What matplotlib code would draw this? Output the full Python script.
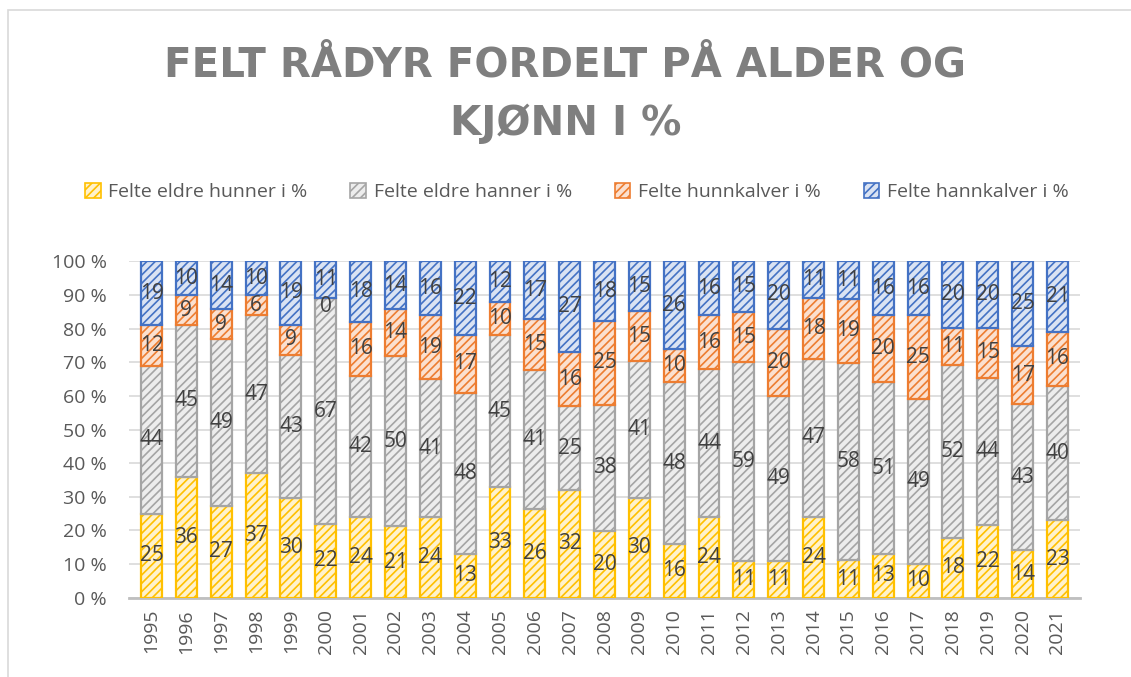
import matplotlib.pyplot as plt
import matplotlib.patches as mpatches
import numpy as np

years = [str(y) for y in range(1995, 2022)]
eldre_hunner = [25, 36, 27, 37, 30, 22, 24, 21, 24, 13, 33, 26, 32, 20, 30, 16, 24, 11, 11, 24, 11, 13, 10, 18, 22, 14, 23]
eldre_hanner = [44, 45, 49, 47, 43, 67, 42, 50, 41, 48, 45, 41, 25, 38, 41, 48, 44, 59, 49, 47, 58, 51, 49, 52, 44, 43, 40]
hunnkalver = [12, 9, 9, 6, 9, 0, 16, 14, 19, 17, 10, 15, 16, 25, 15, 10, 16, 15, 20, 18, 19, 20, 25, 11, 15, 17, 16]
hannkalver = [19, 10, 14, 10, 19, 11, 18, 14, 16, 22, 12, 17, 27, 18, 15, 26, 16, 15, 20, 11, 11, 16, 16, 20, 20, 25, 21]

series = [
    ('Felte eldre hunner i %', eldre_hunner, '#FFF2CC', '#FFC000'),
    ('Felte eldre hanner i %', eldre_hanner, '#EDEDED', '#A5A5A5'),
    ('Felte hunnkalver i %', hunnkalver, '#FBE0CF', '#ED7D31'),
    ('Felte hannkalver i %', hannkalver, '#DAE3F3', '#4472C4'),
]

plt.rcParams['font.family'] = ['Open Sans', 'DejaVu Sans']
plt.rcParams['hatch.linewidth'] = 1.2

fig = plt.figure(figsize=(11.31, 6.77), dpi=100)
ax = fig.add_axes([0.114, 0.117, 0.841, 0.497])

x = np.arange(len(years))
totals = np.sum([s[1] for s in series], axis=0)
bottom = np.zeros(len(years))
handles = []
for name, vals, face, edge in series:
    pct = np.array(vals) / totals * 100
    ax.bar(x, pct, 0.6, bottom=bottom, color=face, edgecolor=edge,
           hatch='////', linewidth=1.6, label=name, zorder=3)
    for xi, b, p, v in zip(x, bottom, pct, vals):
        # zero-size segment: label sits just under the top of the bar below
        yl = b + p / 2 if v > 0 else b - 2.5
        ax.text(xi, yl, str(v), ha='center', va='center',
                fontsize=15, color='#404040', zorder=4)
    bottom += pct
    handles.append(mpatches.Patch(facecolor=face, edgecolor=edge, hatch='////', linewidth=1.2))

ax.set_ylim(0, 100)
ax.set_xlim(-0.65, len(years) - 0.35)
ax.set_yticks(range(0, 101, 10))
ax.set_yticklabels([f'{t} %' for t in range(0, 101, 10)], fontsize=14, color='#595959')
ax.set_xticks(x)
ax.set_xticklabels(years, rotation=90, fontsize=14, color='#595959')
ax.tick_params(length=0, pad=8)
ax.tick_params(axis='y', pad=16)
ax.grid(axis='y', color='#D9D9D9', linewidth=1.2, zorder=0)
for s in ['top', 'right', 'left']:
    ax.spines[s].set_visible(False)
ax.spines['bottom'].set_color('#BFBFBF')
ax.spines['bottom'].set_linewidth(2)

fig.text(0.5, 0.86, 'FELT RÅDYR FORDELT PÅ ALDER OG\nKJØNN I %', ha='center', va='center',
         fontsize=29, fontweight='bold', color='#7F7F7F', linespacing=1.6,
         family=['DejaVu Sans'])

fig.legend(handles, [s[0] for s in series], loc='center', bbox_to_anchor=(0.51, 0.716),
           ncol=4, frameon=False, fontsize=14, labelcolor='#595959',
           handlelength=0.8, handleheight=0.8, handletextpad=0.4, columnspacing=2.2)

fig.patches.append(mpatches.Rectangle((0.007, -0.01), 1.1, 0.995, transform=fig.transFigure,
                                      fill=False, edgecolor='#D9D9D9', linewidth=1.2))

fig.savefig('out.png', dpi=100)
